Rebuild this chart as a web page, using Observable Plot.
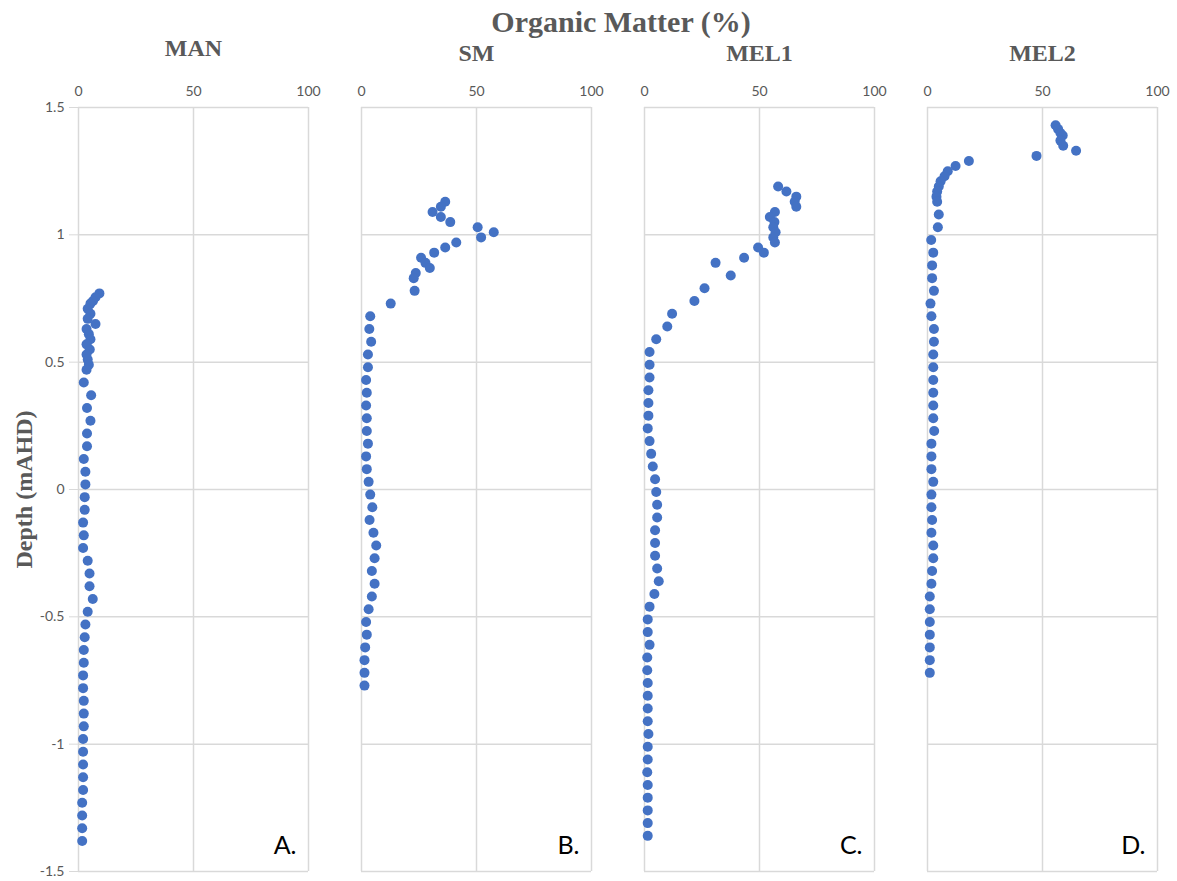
<!DOCTYPE html>
<html><head><meta charset="utf-8">
<script src="https://cdn.jsdelivr.net/npm/d3@7"></script>
<script src="https://cdn.jsdelivr.net/npm/@observablehq/plot@0.6"></script>
<style>
body{margin:0;background:#fff;}
#wrap{position:relative;width:1177px;height:881px;}
#title{position:absolute;top:7px;left:621px;transform:translateX(-50%);font-family:"Liberation Serif","Times New Roman",serif;font-weight:bold;font-size:30px;line-height:30px;color:#595959;white-space:nowrap;z-index:2;}
#wrap svg{position:absolute;left:0;top:0;}
</style></head><body><div id="wrap"><div id="title">Organic Matter (%)</div></div>
<script>
const sites = ["MAN", "SM", "MEL1", "MEL2"];
const panelLetters = ["A.", "B.", "C.", "D."];
const xTicks = [0, 50, 100];
const yTicks = [-1.5, -1, -0.5, 0, 0.5, 1, 1.5];

const manDepth = [0.77,0.755,0.74,0.73,0.71,0.69,0.67,0.65,0.63,0.61,0.59,0.57,0.55,0.53,0.51,0.49,0.47,0.42,0.37,0.32,0.27,0.22,0.17,0.12,0.07,0.02,-0.03,-0.08,-0.13,-0.18,-0.23,-0.28,-0.33,-0.38,-0.43,-0.48,-0.53,-0.58,-0.63,-0.68,-0.73,-0.78,-0.83,-0.88,-0.93,-0.98,-1.03,-1.08,-1.13,-1.18,-1.23,-1.28,-1.33,-1.38];
const manOM = [9.1,7.4,6.3,5.2,4.0,5.2,4.0,7.4,3.5,4.5,5.2,3.5,4.9,3.5,4.0,4.5,3.5,2.3,5.5,3.7,5.2,3.7,3.7,2.3,3.0,3.0,2.7,2.7,2.0,2.3,2.0,4.0,4.8,4.8,6.2,4.0,3.0,2.7,2.3,2.3,2.0,2.0,2.3,2.3,2.3,2.0,2.0,2.0,2.0,2.0,1.6,1.6,1.6,1.6];

const smDepth = [1.13,1.11,1.09,1.07,1.05,1.03,1.01,0.99,0.97,0.95,0.93,0.91,0.89,0.87,0.85,0.83,0.78,0.73,0.68,0.63,0.58,0.53,0.48,0.43,0.38,0.33,0.28,0.23,0.18,0.13,0.08,0.03,-0.02,-0.07,-0.12,-0.17,-0.22,-0.27,-0.32,-0.37,-0.42,-0.47,-0.52,-0.57,-0.62,-0.67,-0.72,-0.77];
const smOM = [36.4,34.5,30.9,34.5,38.6,50.5,57.5,52.0,41.2,36.4,31.6,25.9,27.8,29.7,23.6,22.7,23.1,12.7,3.8,3.4,4.2,2.8,2.8,2.0,2.3,2.0,2.3,2.3,2.8,2.0,2.3,3.1,3.8,4.7,3.5,5.2,6.4,5.7,4.5,5.7,4.5,3.1,2.0,2.3,1.6,1.3,1.3,1.3];

const mel1Depth = [1.19,1.17,1.15,1.13,1.11,1.09,1.07,1.05,1.03,1.01,0.99,0.97,0.95,0.93,0.91,0.89,0.84,0.79,0.74,0.69,0.64,0.59,0.54,0.49,0.44,0.39,0.34,0.29,0.24,0.19,0.14,0.09,0.04,-0.01,-0.06,-0.11,-0.16,-0.21,-0.26,-0.31,-0.36,-0.41,-0.46,-0.51,-0.56,-0.61,-0.66,-0.71,-0.76,-0.81,-0.86,-0.91,-0.96,-1.01,-1.06,-1.11,-1.16,-1.21,-1.26,-1.31,-1.36];
const mel1OM = [58.1,61.7,66.0,65.3,66.0,56.7,54.5,56.5,56.0,57.0,56.0,56.7,49.4,51.9,43.3,30.9,37.5,26.1,21.7,12.0,9.9,5.1,2.2,2.2,2.2,1.7,1.7,1.7,1.4,2.2,2.9,3.6,4.6,5.1,5.5,5.5,4.6,4.6,4.6,5.5,6.2,4.3,2.2,1.4,1.4,2.2,1.2,1.2,1.4,1.4,1.4,1.4,1.7,1.4,1.4,1.2,1.4,1.4,1.4,1.4,1.4];

const mel2Depth = [1.43,1.415,1.40,1.39,1.37,1.35,1.33,1.31,1.29,1.27,1.25,1.23,1.21,1.19,1.17,1.15,1.13,1.08,1.03,0.98,0.93,0.88,0.83,0.78,0.73,0.68,0.63,0.58,0.53,0.48,0.43,0.38,0.33,0.28,0.23,0.18,0.13,0.08,0.03,-0.02,-0.07,-0.12,-0.17,-0.22,-0.27,-0.32,-0.37,-0.42,-0.47,-0.52,-0.57,-0.62,-0.67,-0.72];
const mel2OM = [55.7,56.8,57.8,58.8,57.8,59.0,64.6,47.4,18.0,12.2,8.8,7.4,5.7,4.9,4.2,3.9,4.2,4.9,4.5,1.6,2.5,2.0,2.0,2.8,1.3,1.7,2.8,2.8,2.5,2.5,2.5,2.5,2.5,2.5,2.9,1.7,1.7,1.7,2.5,1.7,1.7,2.0,1.7,2.5,2.5,2.0,1.7,1.0,1.0,1.0,1.0,1.0,1.0,1.0];

const series = [[manDepth, manOM], [smDepth, smOM], [mel1Depth, mel1OM], [mel2Depth, mel2OM]];
const table = series.flatMap(([d, v], i) => d.map((depth, j) => ({site: sites[i], depth, om: v[j]})));

const grid = {stroke: "#d9d9d9", strokeOpacity: 1, strokeWidth: 1.5};
const titleFont = {fontFamily: "Liberation Serif", fontWeight: "bold", fontSize: 24, fill: "#595959"};

const chart = Plot.plot({
  width: 1177, height: 881,
  marginTop: 107, marginBottom: 10, marginLeft: 78, marginRight: 20,
  style: {fontFamily: "Lato", fontSize: "14px", color: "#595959", background: "#fff"},
  fx: {domain: sites, paddingInner: 53 / 283, paddingOuter: 0, axis: null, label: null},
  x: {domain: [0, 100]},
  y: {domain: [-1.5, 1.5]},
  marks: [
    Plot.gridX(xTicks, grid),
    Plot.gridY(yTicks, grid),
    Plot.axisX(xTicks, {anchor: "top", tickSize: 0, tickPadding: 12, label: null, fill: "#595959", fontSize: 14}),
    Plot.axisY(yTicks, {anchor: "left", tickSize: 9, tickPadding: 5, tickFormat: d => String(d), label: null, stroke: "#d9d9d9", fill: "#595959", fontSize: 14}),
    Plot.dot(table, {x: "om", y: "depth", fx: "site", r: 5, fill: "#4472C4"}),
    Plot.text(sites.slice(0, 1), {fx: d => d, text: d => d, frameAnchor: "top", dy: -52, lineAnchor: "bottom", ...titleFont}),
    Plot.text(sites.slice(1), {fx: d => d, text: d => d, frameAnchor: "top", dy: -47, lineAnchor: "bottom", ...titleFont}),
    Plot.text(["Depth (mAHD)"], {fx: () => "MAN", text: d => d, frameAnchor: "left", dx: -54, rotate: -90, textAnchor: "middle", ...titleFont}),
    Plot.text(panelLetters, {fx: (d, i) => sites[i], text: d => d, frameAnchor: "bottom-right", dx: -12, dy: -18, textAnchor: "end", lineAnchor: "bottom", fontFamily: "Lato", fontSize: 25, fill: "black"})
  ]
});
document.getElementById("wrap").appendChild(chart);
</script></body></html>
